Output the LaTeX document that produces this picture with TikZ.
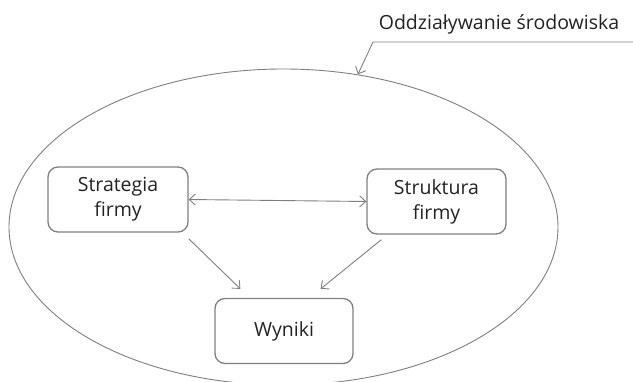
\documentclass[tikz,border=0pt]{standalone}
\usepackage{fontspec}
\setmainfont{Open Sans}
\usetikzlibrary{arrows.meta,shapes.geometric}
\definecolor{linegray}{RGB}{128,128,128}
\definecolor{textgray}{RGB}{35,35,35}
\tikzset{
  box/.style={draw=linegray, line width=1.3pt, rounded corners=10pt,
    minimum width=#1, minimum height=65pt, inner sep=0pt, align=center,
    text=textgray, font=\fontsize{19.5}{25}\selectfont},
  link/.style={draw=linegray, line width=0.9pt, -{Straight Barb[length=6pt,width=11pt]}},
}
\begin{document}
\begin{tikzpicture}[x=1pt, y=-1pt]
  \useasboundingbox (0,0) rectangle (633,382);
  \clip (0,0) rectangle (633,382);
  \fill[white] (0,0) rectangle (633,382);

  % surrounding environment
  \node[ellipse, draw=linegray, line width=0.9pt, minimum width=549pt,
        minimum height=316pt, inner sep=0pt] (env) at (283.5,227) {};

  % label of the environment with its pointer
  \node[text=textgray, font=\fontsize{19.5}{22}\selectfont, anchor=base] (envlabel)
        at (499,30) {Oddziaływanie środowiska};
  \coordinate (lineend) at (633,42);
  \coordinate (bend) at (373,42);
  \draw[link] (lineend) -- (bend) -- (env.64);

  % the three blocks
  \node[box=140pt] (strat) at (118,199.5) {Strategia\\firmy};
  \node[box=139pt] (strukt) at (436.5,201.5) {Struktura\\firmy};
  \node[box=138pt] (wyniki) at (284,331) {Wyniki};

  % relations
  \draw[link, {Straight Barb[length=6pt,width=11pt]}-{Straight Barb[length=6pt,width=11pt]}]
        (strat.east) -- (strukt.west);
  \draw[link] ([yshift=-6pt]strat.south east) -- ([shift={(26pt,9pt)}]wyniki.north west);
  \draw[link] ([shift={(15pt,-5pt)}]strukt.south west) -- ([shift={(-33pt,9pt)}]wyniki.north east);
\end{tikzpicture}
\end{document}
